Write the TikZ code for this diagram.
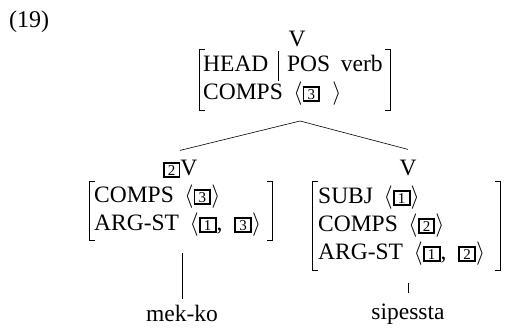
\RequirePackage{fix-cm}
\documentclass[tikz,border=0pt]{standalone}
\usepackage[no-math]{fontspec}
\setmainfont{Liberation Serif}
\newcommand\bx[1]{{\setlength\fboxrule{1.9pt}\setlength\fboxsep{1pt}\fbox{\makebox[12pt]{\rule{0pt}{10.5pt}\fontsize{15}{15}\selectfont #1}}}}
\newcommand\lan{$\langle$}
\newcommand\ran{$\rangle$}
\newcommand\avmbrackets[1]{%
  \draw[brk] ([xshift=5pt]#1.north west) -- (#1.north west) -- (#1.south west) -- ([xshift=5pt]#1.south west);
  \draw[brk] ([xshift=-5pt]#1.north east) -- (#1.north east) -- (#1.south east) -- ([xshift=-5pt]#1.south east);}
\begin{document}
\begin{tikzpicture}[x=1pt,y=-1pt,
  every node/.style={inner sep=0pt, font=\fontsize{23.5}{28}\selectfont},
  row/.style={anchor=base west},
  lbl/.style={anchor=base},
  edge/.style={line width=0.6pt},
  brk/.style={line width=0.9pt}]
\useasboundingbox (0,0) rectangle (505,329);
\node[row, font=\fontsize{24}{28}\selectfont] (num) at (9,28) {(19)};
% top
\node[lbl] (topV) at (297,46) {V};
\node[minimum width=190pt, minimum height=60pt] (top) at (295,80) {};
\node[row] (t1) at (203,71) {HEAD\hspace{10pt}\vrule height 20pt depth 10pt width 0.7pt\hspace{8pt}POS\hspace{0.45em}verb};
\node[row] (t2) at (203,99) {COMPS\hspace{0.45em}\lan\bx{3}\hspace{12pt}\ran};
\avmbrackets{top}
\coordinate (apex) at (300,121);
% left daughter
\node[lbl] (L) at (180,175) {\bx{2}V};
\node[minimum width=182pt, minimum height=59pt] (lavm) at (181,211) {};
\node[row] (l1) at (94,202) {COMPS\hspace{0.45em}\lan\bx{3}\ran};
\node[row] (l2) at (94,230) {ARG-ST\hspace{0.45em}\lan\bx{1},\hspace{0.5em}\bx{3}\ran};
\avmbrackets{lavm}
\node[lbl] (mek) at (182,321) {mek-ko};
\coordinate (lt) at (182,253);
% right daughter
\node[lbl] (R) at (408,175) {V};
\node[minimum width=187pt, minimum height=89pt] (ravm) at (406.5,226) {};
\node[row] (r1) at (318,203) {SUBJ\hspace{0.45em}\lan\bx{1}\ran};
\node[row] (r2) at (318,231) {COMPS\hspace{0.45em}\lan\bx{2}\ran};
\node[row] (r3) at (318,259) {ARG-ST\hspace{0.45em}\lan\bx{1},\hspace{0.5em}\bx{2}\ran};
\avmbrackets{ravm}
\node[lbl] (sip) at (408,319) {sipessta};
\coordinate (rt) at (408,283);
% edges
\draw[edge] (apex) -- ([yshift=9pt]L.north);
\draw[edge] (apex) -- ([yshift=10pt]R.north);
\draw[edge] (lt) -- ([yshift=5pt]mek.north);
\draw[edge] (rt) -- ([yshift=10pt]sip.north);
\end{tikzpicture}
\end{document}
